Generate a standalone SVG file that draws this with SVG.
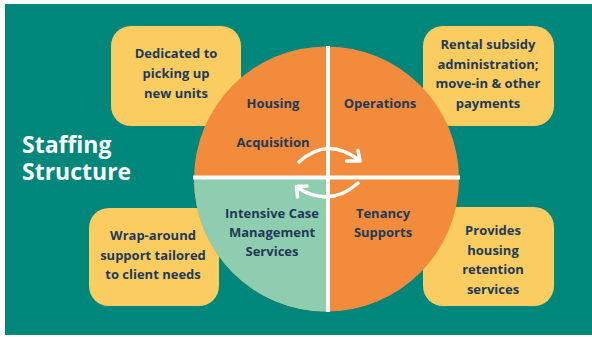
<svg xmlns="http://www.w3.org/2000/svg" width="592" height="337" viewBox="0 0 592 337">
<style>
.box{fill:#FBCD61}
.t{font-family:"Open Sans","Noto Sans","Liberation Sans",sans-serif;font-weight:700;font-size:13px;fill:#1E3A56;text-anchor:middle}
.title{font-family:"Open Sans","Noto Sans","Liberation Sans",sans-serif;font-weight:700;font-size:23px;fill:#FFFFFF}
.arr{fill:none;stroke:#FFFFFF;stroke-width:3.5;stroke-linecap:round;stroke-linejoin:round}
</style>
<rect x="0" y="0" width="592" height="337" fill="#FFFFFF"/>
<rect x="5" y="4" width="587" height="331" fill="#00877B"/>
<g id="title">
<text class="title" x="22" y="153">Staffing</text>
<text class="title" x="22" y="180">Structure</text>
</g>
<g id="box-acquisition-note">
<rect class="box" x="111" y="26" width="130" height="100" rx="20"/>
<text class="t" x="176" y="58">Dedicated to</text>
<text class="t" x="176" y="78">picking up</text>
<text class="t" x="176" y="98">new units</text>
</g>
<g id="box-operations-note">
<rect class="box" x="423" y="26" width="131" height="100" rx="20"/>
<text class="t" x="488" y="49">Rental subsidy</text>
<text class="t" x="488" y="68.5">administration;</text>
<text class="t" x="488" y="88">move-in &amp; other</text>
<text class="t" x="488" y="107.5">payments</text>
</g>
<g id="box-case-note">
<rect class="box" x="89" y="208" width="130" height="98" rx="20"/>
<text class="t" x="153" y="240">Wrap-around</text>
<text class="t" x="153" y="259.5">support tailored</text>
<text class="t" x="153" y="279">to client needs</text>
</g>
<g id="box-tenancy-note">
<rect class="box" x="423" y="207" width="131" height="99" rx="20"/>
<text class="t" x="493" y="235">Provides</text>
<text class="t" x="493" y="254.5">housing</text>
<text class="t" x="493" y="274">retention</text>
<text class="t" x="493" y="294">services</text>
</g>
<g id="circle">
<circle cx="326.5" cy="179" r="132.5" fill="#F28C3C"/>
<path d="M326.5,179 L194,179 A132.5,132.5 0 0 0 326.5,311.5 Z" fill="#8FCDB0"/>
<line x1="328" y1="46" x2="328" y2="312" stroke="#FFFFFF" stroke-width="4"/>
<line x1="193" y1="177.5" x2="460" y2="177.5" stroke="#FFFFFF" stroke-width="4"/>
</g>
<g id="node-housing">
<text class="t" x="273" y="108">Housing</text>
<text class="t" x="273" y="147">Acquisition</text>
</g>
<g id="node-operations">
<text class="t" x="380" y="108">Operations</text>
</g>
<g id="node-case">
<text class="t" x="272" y="218">Intensive Case</text>
<text class="t" x="272" y="237">Management</text>
<text class="t" x="272" y="256">Services</text>
</g>
<g id="node-tenancy">
<text class="t" x="383" y="218">Tenancy</text>
<text class="t" x="383" y="237">Supports</text>
</g>
<g id="connectors">
<path class="arr" d="M299,162 Q327,136 359,160"/>
<path class="arr" d="M358,150.5 L360,161 L346.5,161"/>
<path class="arr" d="M358,183 Q330,208 298,188"/>
<path class="arr" d="M307,186 L296.5,186.5 L297.5,197"/>
</g>
</svg>
